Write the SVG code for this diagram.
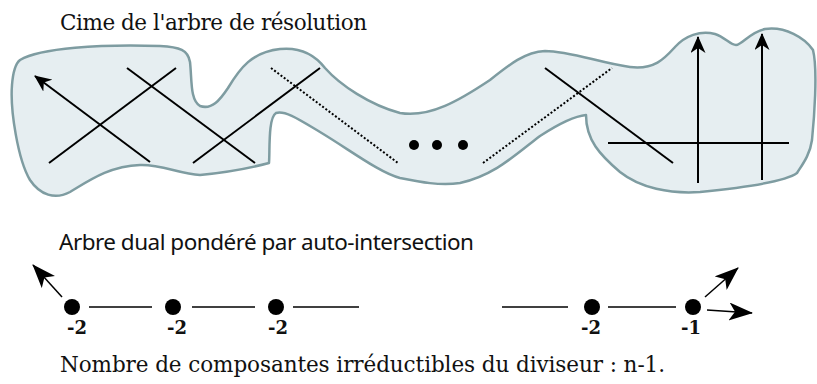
<svg xmlns="http://www.w3.org/2000/svg" width="817" height="384" viewBox="0 0 817 384">
  <style>
    .serif { font-family: "DejaVu Serif", "Liberation Serif", serif; fill: #111; }
    .sans { font-family: "Noto Sans", "Liberation Sans", sans-serif; fill: #111; }
    .lab { font-family: "DejaVu Serif", "Liberation Serif", serif; font-weight: bold; font-size: 18px; fill: #111; text-anchor: middle; }
    .blob { fill: #e6eef1; stroke: #7e9ca1; stroke-width: 2.5; stroke-linejoin: round; }
    .curve { stroke: #000; stroke-width: 2; fill: none; }
    .dotted { stroke: #000; stroke-width: 2; stroke-dasharray: 2 2; fill: none; }
    .edge { stroke: #000; stroke-width: 1.5; fill: none; }
    .pt { fill: #000; }
  </style>
  <defs>
    <marker id="tipS" viewBox="0 0 17 15" refX="16" refY="7.5" markerWidth="17" markerHeight="15" markerUnits="userSpaceOnUse" orient="auto">
      <path d="M0,0 L17,7.5 L0,15 L5,7.5 Z" fill="#000"/>
    </marker>
    <marker id="tipL" viewBox="0 0 24 18" refX="23" refY="9" markerWidth="24" markerHeight="18" markerUnits="userSpaceOnUse" orient="auto">
      <path d="M0,0 L24,9 L0,18 L6,9 Z" fill="#000"/>
    </marker>
  </defs>

  <text class="serif" x="60" y="30" font-size="21.5" textLength="307">Cime de l'arbre de résolution</text>

  <!-- top of the resolution tree: one neighbourhood of the curves -->
  <g id="region">
    <path class="blob" d="M20,60 C40,48 100,44 160,46 C180,47 188,50 190,62 C192,80 190,100 200,106 C212,110 220,100 228,88 C240,68 252,52 280,49 C300,47 315,55 325,68 C340,85 370,105 400,113 C430,118 460,100 490,80 C510,64 525,52 545,51 C570,51 600,63 630,67 C655,70 665,58 675,47 C685,36 700,30 715,34 C725,37 730,45 736,45 C742,45 750,32 765,29 C785,26 805,38 813,50 C818,70 814,120 812,140 C810,155 802,165 797,173 C785,182 740,188 700,192 C670,194 640,188 620,172 C600,155 586,140 586,115 C575,116 560,123 540,136 C515,155 495,175 460,183 C440,186 420,182 400,178 C380,173 350,150 320,132 C300,120 285,110 276,113 C268,118 270,150 269,163 C250,168 220,173 200,175 C180,174 160,164 140,165 C110,166 90,180 70,192 C55,200 40,195 30,180 C18,160 10,110 12,85 C13,72 15,64 20,60 Z"/>
  </g>

  <g id="curves">
    <path class="curve" d="M150,162 L35,76" marker-end="url(#tipS)"/>
    <path class="curve" d="M49,163 L176,68"/>
    <path class="curve" d="M127,68 L255,163"/>
    <path class="curve" d="M193,163 L320,68"/>
    <path class="dotted" d="M271,68 L398,163"/>
    <circle class="pt" cx="414" cy="145" r="5"/>
    <circle class="pt" cx="437" cy="145" r="5"/>
    <circle class="pt" cx="463" cy="145" r="5"/>
    <path class="dotted" d="M483,163 L612,68"/>
    <path class="curve" d="M545,68 L673,163"/>
    <path class="curve" d="M608,143 L789,143"/>
    <path class="curve" d="M698,183 L698,37" marker-end="url(#tipS)"/>
    <path class="curve" d="M762,180 L762,34" marker-end="url(#tipS)"/>
  </g>

  <text class="sans" x="59" y="250" font-size="22.5" textLength="415">Arbre dual pondéré par auto-intersection</text>

  <!-- dual graph weighted by self-intersection -->
  <g id="connectors">
    <path class="edge" d="M89,307 L152,307"/>
    <path class="edge" d="M192,307 L255,307"/>
    <path class="edge" d="M293,307 L359,307"/>
    <path class="edge" d="M502,307 L568,307"/>
    <path class="edge" d="M608,307 L676,307"/>
    <path class="edge" d="M62,297 L33,265" marker-end="url(#tipL)"/>
    <path class="edge" d="M705,297 L738,268" marker-end="url(#tipL)"/>
    <path class="edge" d="M707,310 L752,313" marker-end="url(#tipL)"/>
  </g>
  <g id="v1"><circle class="pt" cx="72" cy="307" r="8"/><text class="lab" x="77" y="334">-2</text></g>
  <g id="v2"><circle class="pt" cx="173" cy="307" r="8"/><text class="lab" x="177" y="334">-2</text></g>
  <g id="v3"><circle class="pt" cx="276" cy="307" r="8"/><text class="lab" x="278" y="334">-2</text></g>
  <g id="v4"><circle class="pt" cx="592" cy="307" r="8"/><text class="lab" x="591" y="334">-2</text></g>
  <g id="v5"><circle class="pt" cx="693" cy="307" r="8"/><text class="lab" x="691" y="334">-1</text></g>

  <text class="serif" x="60" y="372" font-size="21.5" textLength="605">Nombre de composantes irréductibles du diviseur : n-1.</text>
</svg>
